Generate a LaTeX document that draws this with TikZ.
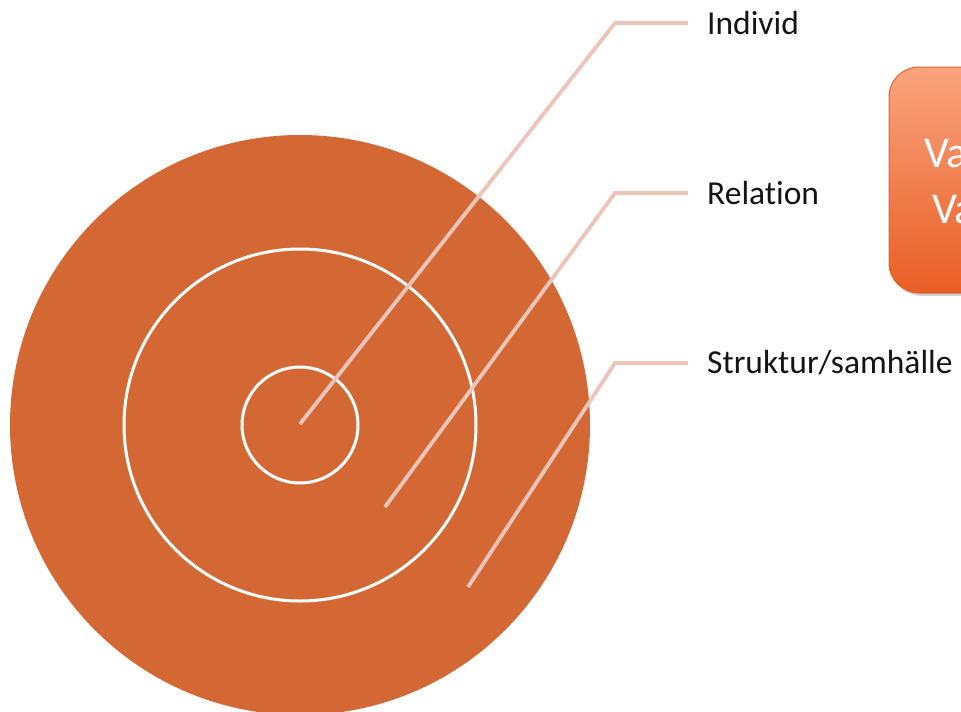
\documentclass[tikz,border=0pt]{standalone}
\usepackage{fontspec}
\setmainfont[Ligatures={NoCommon}]{Carlito}
\usetikzlibrary{shadows}
\definecolor{ringorange}{RGB}{211,104,52}
\definecolor{leader}{RGB}{236,196,184}
\definecolor{boxtop}{RGB}{250,164,126}
\definecolor{boxbot}{RGB}{232,94,36}
\definecolor{boxedge}{RGB}{214,104,52}
\definecolor{labeltext}{RGB}{20,20,20}
\begin{document}
\begin{tikzpicture}[x=1pt,y=-1pt,
  ring/.style={circle,draw=white,line width=3pt,minimum size=#1,inner sep=0pt},
  leaderline/.style={draw=leader,line width=3.8pt},
  lbl/.style={anchor=west,font=\fontsize{33.5}{36}\selectfont,text=labeltext,inner sep=0pt},
  callout/.style={rounded corners=30pt,draw=boxedge,line width=1pt,top color=boxtop,bottom color=boxbot,drop shadow={opacity=0.35,shadow xshift=3pt,shadow yshift=-3pt}},
  boxtext/.style={font=\fontsize{44}{48}\selectfont,text=white,anchor=base west,inner sep=0pt}]
\useasboundingbox (0,0) rectangle (961,712);
% circles
\node[circle,fill=ringorange,minimum size=580pt,inner sep=0pt] (outer) at (300,425) {};
\node[ring=352pt] (middle) at (300,425) {};
\node[ring=116pt] (inner) at (300,425) {};
% leader anchor points
\coordinate (p1) at (300,424);
\coordinate (k1) at (615,23);
\coordinate (e1) at (688,23);
\coordinate (p2) at (385,507);
\coordinate (k2) at (615,193);
\coordinate (e2) at (688,193);
\coordinate (p3) at (468,587);
\coordinate (k3) at (615,363);
\coordinate (e3) at (688,363);
% labels
\node[lbl] (individ) at (707,23) {Individ};
\node[lbl] (relation) at (707,193) {Relation};
\node[lbl] (struktur) at (707,363) {Struktur/samhälle};
% leaders
\draw[leaderline] (p1) -- (k1) -- (e1);
\draw[leaderline] (p2) -- (k2) -- (e2);
\draw[leaderline] (p3) -- (k3) -- (e3);
% callout box
\path[callout] (889,67) rectangle (1100,293);
\node[boxtext] (va1) at (924,167) {Va};
\node[boxtext] (va2) at (932,223) {Va};
\end{tikzpicture}
\end{document}
